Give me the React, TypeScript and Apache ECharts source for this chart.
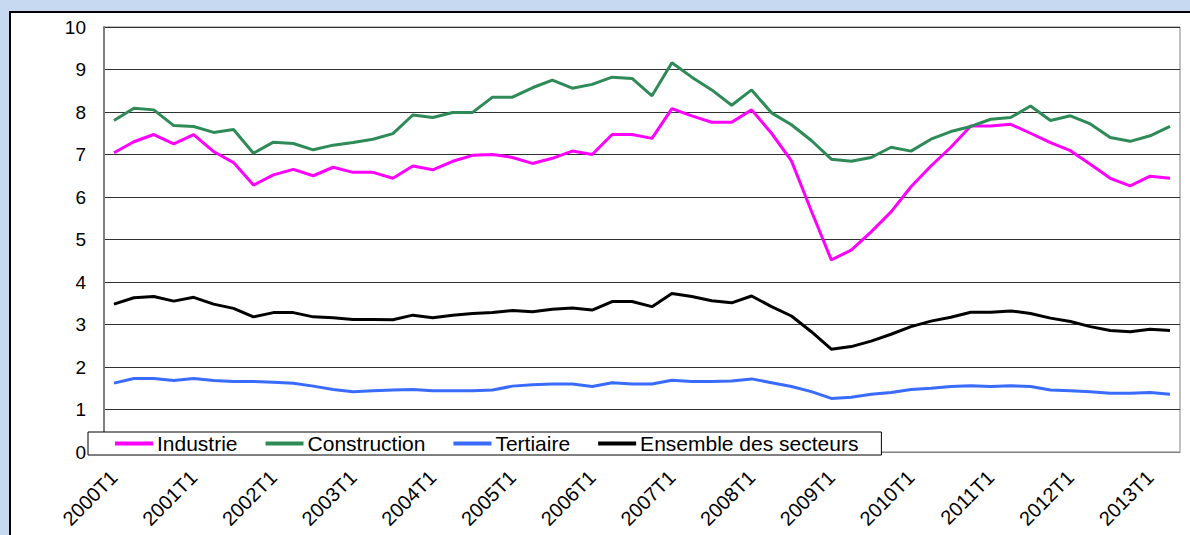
import React, { useEffect, useRef } from "react";
import * as echarts from "echarts";

const years = ["2000", "2001", "2002", "2003", "2004", "2005", "2006", "2007", "2008", "2009", "2010", "2011", "2012", "2013"];
const quarters = ["T1", "T2", "T3", "T4"];
const categories: string[] = years.flatMap((y) => quarters.map((q) => y + q)).slice(0, 54);

const industrie = [
  7.04, 7.30, 7.47, 7.25, 7.47, 7.07, 6.81, 6.28, 6.52, 6.65, 6.50, 6.70, 6.58, 6.58, 6.44,
  6.73, 6.64, 6.84, 6.98, 7.00, 6.93, 6.79, 6.91, 7.08, 7.00, 7.47, 7.47, 7.38, 8.08, 7.91, 7.76, 7.76, 8.05, 7.50,
  6.85, 5.67, 4.52, 4.75, 5.18, 5.65, 6.24, 6.73, 7.17, 7.67, 7.67, 7.71, 7.50, 7.28, 7.09, 6.77, 6.44, 6.26, 6.49, 6.44,
];
const construction = [
  7.80, 8.09, 8.05, 7.68, 7.66, 7.52, 7.59, 7.03, 7.29, 7.26, 7.11, 7.22, 7.28, 7.36, 7.49,
  7.93, 7.87, 7.99, 7.99, 8.35, 8.35, 8.57, 8.75, 8.56, 8.65, 8.82, 8.79, 8.38, 9.16, 8.82, 8.52, 8.16, 8.52, 7.98,
  7.70, 7.33, 6.89, 6.84, 6.93, 7.17, 7.08, 7.36, 7.54, 7.66, 7.83, 7.87, 8.14, 7.80, 7.91, 7.72, 7.40, 7.31, 7.44, 7.66,
];
const tertiaire = [
  1.62, 1.73, 1.73, 1.68, 1.73, 1.68, 1.66, 1.66, 1.64, 1.62, 1.55, 1.47, 1.42, 1.44, 1.46,
  1.47, 1.44, 1.44, 1.44, 1.46, 1.55, 1.58, 1.60, 1.60, 1.54, 1.63, 1.60, 1.60, 1.69, 1.66, 1.66, 1.67, 1.72, 1.63,
  1.54, 1.42, 1.26, 1.29, 1.36, 1.40, 1.47, 1.50, 1.54, 1.56, 1.54, 1.56, 1.54, 1.46, 1.44, 1.42, 1.38, 1.38, 1.40, 1.36,
];
const ensemble = [
  3.48, 3.63, 3.66, 3.55, 3.64, 3.48, 3.38, 3.18, 3.28, 3.28, 3.18, 3.16, 3.12, 3.12, 3.11,
  3.22, 3.16, 3.22, 3.26, 3.28, 3.33, 3.30, 3.36, 3.39, 3.34, 3.54, 3.54, 3.42, 3.73, 3.66, 3.56, 3.51, 3.67, 3.42,
  3.20, 2.83, 2.42, 2.48, 2.61, 2.77, 2.95, 3.08, 3.17, 3.29, 3.29, 3.32, 3.26, 3.15, 3.07, 2.95, 2.86, 2.83, 2.89, 2.86,
];

const seriesNames = ["Industrie", "Construction", "Tertiaire", "Ensemble des secteurs"];
const seriesColors = ["#FF00FF", "#2E8B57", "#3A6BFF", "#000000"];
const seriesData = [industrie, construction, tertiaire, ensemble];

const FONT = "'Liberation Sans', Arial, sans-serif";

export default function App() {
  const ref = useRef<HTMLDivElement>(null);
  useEffect(() => {
    document.body.style.margin = "0";
    if (!ref.current) return;
    const chart = echarts.init(ref.current, null, { renderer: "svg" });
    chart.setOption({
      animation: false,
      textStyle: { fontFamily: FONT },
      grid: {
        left: 104,
        right: 10,
        top: 27,
        bottom: 83,
        show: true,
        borderColor: "#808080",
        borderWidth: 1,
        backgroundColor: "transparent",
      },
      legend: {
        left: 88,
        top: 432,
        backgroundColor: "#ffffff",
        borderColor: "#000000",
        borderWidth: 1,
        borderRadius: 0,
        padding: [1, 23, 1, 27],
        itemGap: 28,
        itemWidth: 38,
        itemHeight: 4,
        icon: "rect",
        data: seriesNames,
        textStyle: { fontSize: 21, lineHeight: 21, color: "#000", fontFamily: FONT, padding: [0, 0, 0, -1] },
      },
      xAxis: {
        type: "category",
        data: categories,
        boundaryGap: true,
        axisLine: { show: true, lineStyle: { color: "#808080", width: 1 } },
        axisTick: { show: false },
        axisLabel: {
          interval: 3,
          rotate: 45,
          fontSize: 20,
          color: "#000",
          fontFamily: FONT,
          margin: 22,
        },
        splitLine: { show: false },
      },
      yAxis: {
        type: "value",
        min: 0,
        max: 10,
        interval: 1,
        axisLine: { show: true, lineStyle: { color: "#808080", width: 2 } },
        axisTick: { show: false },
        axisLabel: { fontSize: 19, color: "#000", fontFamily: FONT, margin: 18 },
        splitLine: { show: true, lineStyle: { color: "#303030", width: 1 } },
      },
      series: seriesNames.map((name, i) => ({
        name,
        type: "line",
        data: seriesData[i],
        symbol: "none",
        color: seriesColors[i],
        lineStyle: { color: seriesColors[i], width: 3 },
        z: 2,
      })),
    });
    return () => chart.dispose();
  }, []);

  return (
    <div style={{ position: "fixed", left: 0, top: 0, width: 1190, height: 535, background: "#C6D9F1", overflow: "hidden" }}>
      <div
        style={{
          position: "absolute",
          left: 9,
          top: 11,
          width: 1200,
          height: 540,
          background: "#ffffff",
          border: "2px solid #000000",
          boxSizing: "border-box",
        }}
      />
      <div ref={ref} style={{ position: "absolute", left: 0, top: 0, width: 1190, height: 535 }} />
    </div>
  );
}
